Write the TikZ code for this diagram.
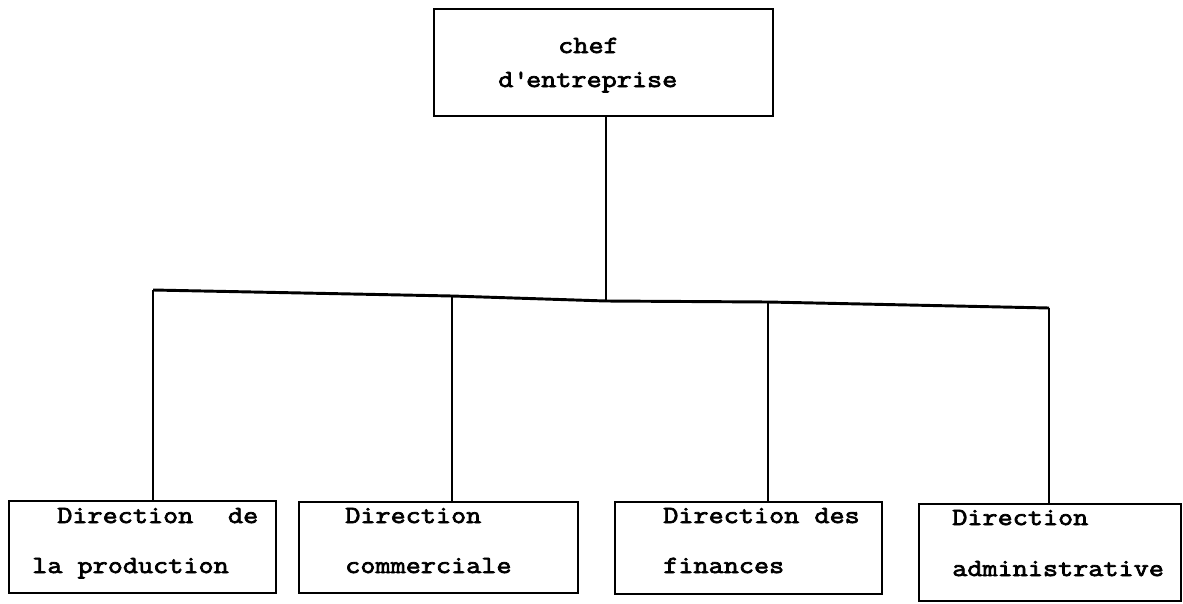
\documentclass[tikz,border=0pt]{standalone}
\usepackage{fontspec}
\newfontfamily\tw[FakeStretch=1.19,FakeBold=3]{Latin Modern Mono}
\begin{document}
\begin{tikzpicture}[x=0.75pt,y=-0.75pt,
  box/.style={draw,line width=1.4pt,rectangle,inner sep=0pt,anchor=north west},
  lbl/.style={anchor=base west,inner sep=0pt,font=\tw\fontsize{18.5}{20}\selectfont},
  wire/.style={line width=1.5pt},
  bus/.style={line width=2.2pt}]
\useasboundingbox (0,0) rectangle (1183,604);
% top box
\node[box,minimum width=339*0.75pt,minimum height=107*0.75pt] (top) at (433,8) {};
\node[lbl] (t1) at (558,53) {chef};
\node[lbl] (t2) at (498,87) {d\textquotesingle entreprise};
% bus coordinates
\coordinate (j0) at (606,301);
\coordinate (j1) at (153,290);
\coordinate (j2) at (452,296);
\coordinate (j3) at (768,302);
\coordinate (j4) at (1049,308);
% bottom boxes
\node[box,minimum width=267*0.75pt,minimum height=92*0.75pt] (b1) at (8,500) {};
\node[box,minimum width=279*0.75pt,minimum height=91*0.75pt] (b2) at (298,501) {};
\node[box,minimum width=267*0.75pt,minimum height=92*0.75pt] (b3) at (614,501) {};
\node[box,minimum width=262*0.75pt,minimum height=97*0.75pt] (b4) at (918,503) {};
% labels
\node[lbl] (l1a) at (57,523) {Direction\hspace{26pt}de};
\node[lbl] (l1b) at (32,573) {la production};
\node[lbl] (l2a) at (345,523) {Direction};
\node[lbl] (l2b) at (345,573) {commerciale};
\node[lbl] (l3a) at (663,523) {Direction des};
\node[lbl] (l3b) at (663,573) {finances};
\node[lbl] (l4a) at (952,525) {Direction};
\node[lbl] (l4b) at (952,576) {administrative};
% connectors
\draw[wire] (top.south -| j0) -- (j0);
\draw[bus] (j1) -- (j2) -- (j0) -- (j3) -- (j4);
\draw[wire] (j1) -- (j1 |- b1.north);
\draw[wire] (j2) -- (j2 |- b2.north);
\draw[wire] (j3) -- (j3 |- b3.north);
\draw[wire] (j4) -- (j4 |- b4.north);
\end{tikzpicture}
\end{document}
